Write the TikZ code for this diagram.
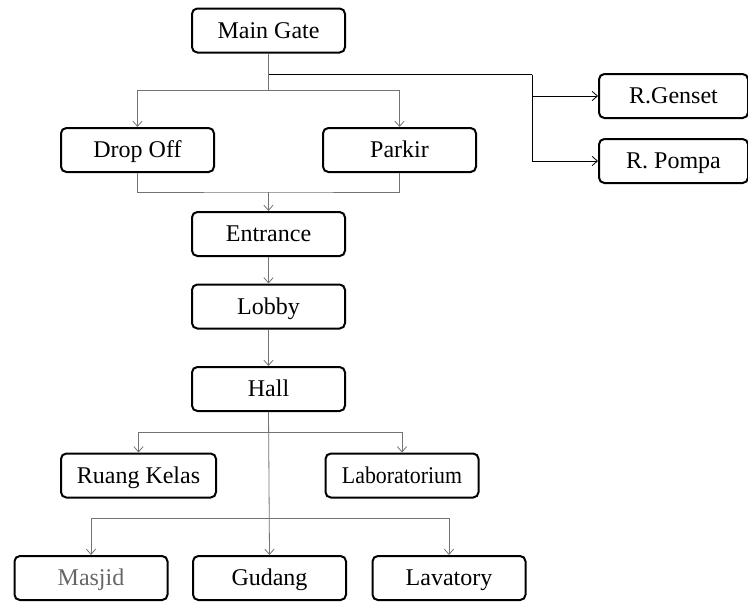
\documentclass[tikz,border=0pt]{standalone}
\usepackage{fontspec}
\setmainfont{Liberation Serif}
\usetikzlibrary{arrows.meta}

\tikzset{
  ruang/.style={draw, line width=1.5pt, rounded corners=4pt, minimum width=114.75pt, minimum height=33pt, inner sep=0pt, text height=11.5pt, text depth=0pt, font=\fontsize{18}{20}\selectfont},
  alur/.style={line width=0.6pt, draw=black!55},
  alurhitam/.style={line width=0.6pt, draw=black},
  panah/.style={-{Straight Barb[length=4pt,width=7pt]}}
}

\begin{document}
\begin{tikzpicture}[x=0.75pt, y=-0.75pt]
  \useasboundingbox (0,0) rectangle (748,601);
  \node[ruang] (gate) at (268.5,30.5) {Main Gate}; %pintu utama
  \node[ruang] (drop) at (137.5,150) {Drop Off};
  \node[ruang] (park) at (399.5,150) {Parkir};
  \node[ruang] (entrance) at (268.5,234) {Entrance};
  \node[ruang] (lobby) at (268.5,306.5) {Lobby};
  \node[ruang] (hall) at (268.5,389) {Hall};
  \node[ruang, minimum width=111.75pt] (genset) at (673.5,96) {R.Genset}; %servis
  \node[ruang, minimum width=111.75pt] (pompa) at (673.5,161) {R. Pompa}; %servis
  \node[ruang, minimum width=116.25pt] (kelas) at (138.5,475.5) {Ruang Kelas};
  \node[ruang] (lab) at (402,475.5) {\scalebox{0.91}[1]{Laboratorium}};
  \node[ruang, text=black!60] (masjid) at (91,578) {Masjid};
  \node[ruang] (gudang) at (269.5,578) {Gudang};
  \node[ruang] (lavatory) at (449,578) {Lavatory};
  \coordinate (gateJ) at (268.5,90); %cabang gate
  \coordinate (servisA) at (268.5,74.5);
  \coordinate (servisJ) at (532,74.5); %cabang servis
  \coordinate (entJ) at (268.5,192); %gabung drop off & parkir
  \coordinate (hallA) at (268.5,432); %cabang kelas & lab
  \coordinate (hallB) at (268.5,518); %cabang bawah
  \draw[alur] (gate.south) -- (gateJ);
  \draw[alur, panah] (gateJ) -| (drop.north);
  \draw[alur, panah] (gateJ) -| (park.north);
  \draw[alurhitam] (servisA) -- (servisJ);
  \draw[alurhitam, panah] (servisJ) |- (genset.west);
  \draw[alurhitam, panah] (servisJ) |- (pompa.west);
  \draw[alur] (drop.south) |- (entJ) -| (park.south);
  \draw[alur, panah] (entJ) -- (entrance.north);
  \draw[alur, panah] (entrance) -- (lobby);
  \draw[alur, panah] (lobby) -- (hall);
  \draw[alur, panah] (hall.south) -- (gudang.north);
  \draw[alur, panah] (hallA) -| (kelas.north);
  \draw[alur, panah] (hallA) -| (lab.north);
  \draw[alur, panah] (hallB) -| (masjid.north);
  \draw[alur, panah] (hallB) -| (lavatory.north);
\end{tikzpicture}
\end{document}
